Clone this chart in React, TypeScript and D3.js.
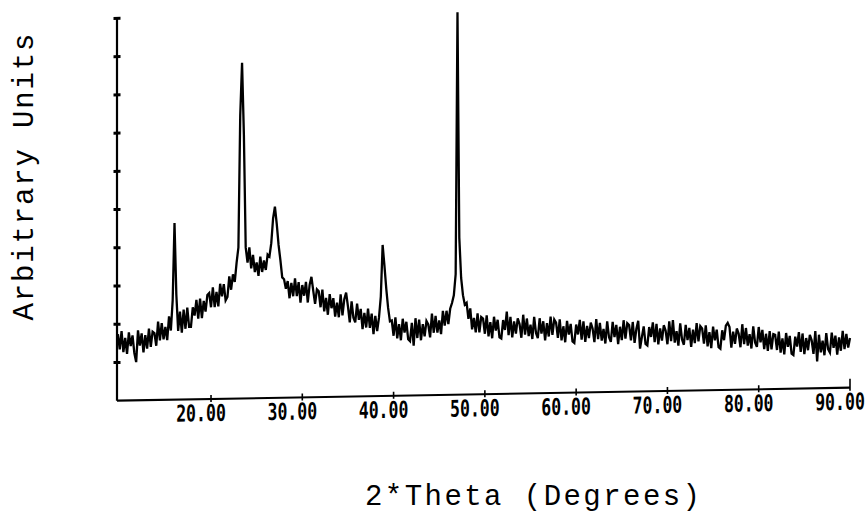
import React from "react";
import * as d3 from "d3";

// 2-theta sampling grid of the scan (start, step in degrees)
const START = 9.8;
const STEP = 0.2;

// Intensity (arbitrary units, y-axis tick = 1), 10 points per 2 degrees
const intensity: number[] = [
  1.74, 1.34, 1.82, 1.27, 1.64, 1.22, 1.78, 1.42, 1.70, 1.24,
  1.00, 1.83, 1.43, 1.75, 1.25, 1.70, 1.35, 1.87, 1.39, 1.79,
  1.75, 1.42, 2.05, 1.56, 2.01, 1.58, 1.91, 1.56, 2.18, 1.81,
  2.60, 4.62, 2.75, 1.80, 2.30, 1.75, 2.35, 1.85, 2.40, 1.90,
  1.90, 2.41, 2.19, 2.60, 2.11, 2.63, 2.12, 2.57, 2.29, 2.72,
  2.77, 2.40, 2.92, 2.40, 2.80, 2.42, 3.01, 2.68, 3.00, 2.57,
  2.66, 3.20, 2.85, 3.25, 3.05, 3.55, 3.95, 7.40, 8.78, 6.90,
  3.95, 3.55, 3.95, 3.40, 3.75, 3.30, 3.55, 3.20, 3.70, 3.30,
  3.60, 3.35, 3.75, 3.70, 4.05, 4.70, 5.00, 4.55, 4.00, 3.60,
  3.15, 3.10, 2.85, 3.05, 2.60, 3.00, 2.65, 3.12, 2.65, 3.02,
  2.48, 2.94, 2.66, 3.02, 2.48, 2.94, 3.15, 2.78, 2.44, 2.82,
  2.77, 2.35, 2.81, 2.24, 2.59, 2.15, 2.69, 2.32, 2.58, 2.10,
  2.46, 2.08, 2.68, 2.13, 2.55, 2.72, 2.36, 1.94, 2.49, 2.06,
  1.94, 2.43, 2.00, 2.29, 1.76, 2.18, 1.80, 2.29, 1.79, 2.16,
  1.62, 2.10, 1.70, 2.05, 2.60, 3.95, 3.40, 2.80, 2.30, 1.95,
  1.97, 1.57, 2.05, 1.50, 1.87, 1.45, 2.01, 1.65, 1.93, 1.47,
  1.42, 1.90, 1.30, 2.02, 1.50, 1.98, 1.44, 1.86, 1.54, 1.94,
  1.85, 1.51, 2.13, 1.63, 2.07, 1.63, 1.95, 1.59, 2.20, 1.81,
  2.20, 1.85, 2.25, 2.40, 2.60, 3.15, 10.0, 4.10, 3.05, 2.60,
  2.35, 2.40, 1.98, 2.25, 1.70, 2.00, 1.62, 2.12, 1.62, 2.02,
  1.98, 1.58, 2.06, 1.51, 1.88, 1.46, 2.02, 1.66, 1.94, 1.48,
  1.45, 1.93, 1.67, 2.15, 1.53, 2.01, 1.47, 1.89, 1.57, 1.97,
  1.82, 1.46, 2.06, 1.54, 1.96, 1.50, 1.80, 1.42, 2.00, 1.58,
  1.44, 1.96, 1.56, 1.88, 1.38, 1.83, 1.48, 2.00, 1.52, 1.92,
  1.84, 1.44, 1.92, 1.37, 1.74, 1.32, 1.88, 1.52, 1.80, 1.34,
  1.30, 1.78, 1.52, 1.90, 1.38, 1.86, 1.32, 1.74, 1.42, 1.82,
  1.67, 1.31, 1.91, 1.39, 1.81, 1.35, 1.65, 1.27, 1.85, 1.43,
  1.31, 1.83, 1.43, 1.75, 1.25, 1.70, 1.35, 1.87, 1.39, 1.79,
  1.74, 1.34, 1.82, 1.27, 1.64, 1.85, 1.12, 1.42, 1.70, 1.24,
  1.20, 1.68, 1.42, 1.80, 1.28, 1.76, 1.22, 1.64, 1.32, 1.72,
  1.58, 1.22, 1.82, 1.30, 1.85, 1.26, 1.56, 1.18, 1.76, 1.34,
  1.20, 1.72, 1.32, 1.64, 1.14, 1.59, 1.24, 1.76, 1.28, 1.68,
  1.62, 1.22, 1.70, 1.15, 1.52, 1.10, 1.66, 1.30, 1.58, 1.12,
  1.08, 1.56, 1.30, 1.68, 1.75, 1.64, 1.10, 1.52, 1.20, 1.60,
  1.47, 1.11, 1.71, 1.19, 1.61, 1.15, 1.45, 1.07, 1.65, 1.23,
  1.11, 1.63, 1.23, 1.55, 1.05, 1.45, 1.00, 1.52, 1.04, 1.44,
  1.42, 1.02, 1.50, 0.95, 1.32, 0.90, 1.46, 1.10, 1.38, 0.92,
  0.88, 1.36, 1.10, 1.48, 0.96, 1.44, 0.90, 1.32, 1.00, 1.40,
  1.26, 0.90, 1.50, 0.70, 1.40, 0.94, 1.24, 0.86, 1.44, 1.02,
  0.93, 1.45, 1.05, 1.37, 0.87, 1.32, 0.97, 1.49, 1.01, 1.41,
  1.05, 1.30,
];

const twoTheta: number[] = intensity.map((_, i) => +(START + i * STEP).toFixed(1));

const xTicks: number[] = [20, 30, 40, 50, 60, 70, 80, 90];
const xTickLabels: string[] = ["20.00", "30.00", "40.00", "50.00", "60.00", "70.00", "80.00", "90.00"];
const yTicks: number[] = [1, 2, 3, 4, 5, 6, 7, 8, 9, 10];

const xTitle = "2*Theta (Degrees)";
const yTitle = "Arbitrary Units";

const W = 867;
const H = 514;
const X0 = 117;
const X1 = 850;
const Y0 = 400.7;
const Y1 = 18.4;

export default function App() {
  const x = d3.scaleLinear().domain([9.7, 90]).range([X0, X1]);
  const y = d3.scaleLinear().domain([0, 10]).range([Y0, Y1]);
  const pts: [number, number][] = twoTheta.map((t, i) => [t, intensity[i]]);
  const line = d3
    .line<[number, number]>()
    .x((d) => x(d[0]))
    .y((d) => y(d[1]));
  const mono = "'Liberation Mono', 'Courier New', monospace";
  const tickFont = "'DejaVu Sans Mono', monospace";

  return (
    <svg
      width={W}
      height={H}
      viewBox={`0 0 ${W} ${H}`}
      style={{ position: "absolute", left: 0, top: 0, background: "#fff" }}
    >
      <rect x={0} y={0} width={W} height={H} fill="#fff" />
      <g transform={`translate(${X0},${Y0}) skewY(-1.016) translate(${-X0},${-Y0})`}>
        {/* y axis */}
        <line x1={X0} x2={X0} y1={y(10)} y2={Y0} stroke="#000" strokeWidth={2.2} />
        {yTicks.map((t) => (
          <line key={t} x1={X0 - 3.5} x2={X0 + 3.5} y1={y(t)} y2={y(t)} stroke="#000" strokeWidth={3} />
        ))}
        {/* x axis */}
        <line x1={X0} x2={X1} y1={Y0} y2={Y0} stroke="#000" strokeWidth={2.2} />
        {xTicks.map((t) => (
          <line key={t} x1={x(t)} x2={x(t)} y1={Y0 - (t === 90 ? 9 : 4)} y2={Y0 + 3} stroke="#000" strokeWidth={1.6} />
        ))}
        {xTicks.map((t, i) => (
          <g key={"l" + t} transform={`translate(${x(t) - 10},${Y0 + 22}) scale(1,1.4)`}>
            <text
              x={0}
              y={0}
              textAnchor="middle"
              fontFamily={tickFont}
              fontWeight="bold"
              fontSize={16.5}
              fill="#000"
            >
              {xTickLabels[i]}
            </text>
          </g>
        ))}
        {/* data */}
        <path d={line(pts) || ""} fill="none" stroke="#000" strokeWidth={2.3} strokeLinejoin="miter" />
      </g>
      <text
        x={365}
        y={505}
        fontFamily={mono}
        fontSize={29}
        textLength={335}
        lengthAdjust="spacing"
        fill="#000"
      >
        {xTitle}
      </text>
      <text
        transform={`translate(33,177) rotate(-90)`}
        textAnchor="middle"
        fontFamily={mono}
        fontSize={29}
        textLength={287}
        lengthAdjust="spacing"
        fill="#000"
      >
        {yTitle}
      </text>
    </svg>
  );
}
